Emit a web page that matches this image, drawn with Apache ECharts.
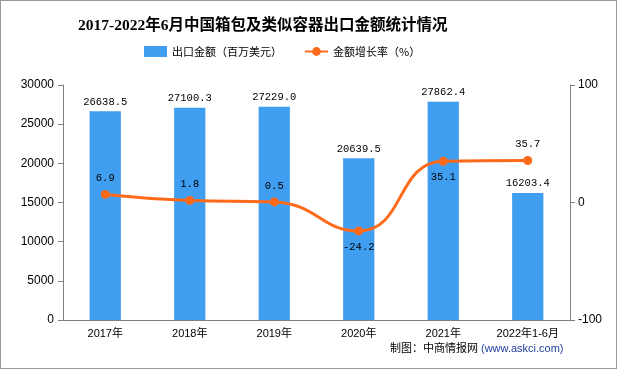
<!DOCTYPE html>
<html><head><meta charset="utf-8">
<script src="https://cdn.jsdelivr.net/npm/echarts@6/dist/echarts.min.js"></script>
<style>html,body{margin:0;padding:0;background:#fff}#c{width:617px;height:369px;box-sizing:border-box;border:1px solid #999}</style>
</head><body><div id="c"></div>
<script>
const categories = ['2017年','2018年','2019年','2020年','2021年','2022年1-6月'];
const exportValue = [26638.5, 27100.3, 27229.0, 20639.5, 27862.4, 16203.4];
const growthRate = [6.9, 1.8, 0.5, -24.2, 35.1, 35.7];
const growthLabelPos = ['top','top','top','bottom','bottom','top'];
const leftTicks = [0, 5000, 10000, 15000, 20000, 25000, 30000];

const chart = echarts.init(document.getElementById('c'));
const monoFont = "'Liberation Mono', monospace";
chart.setOption({
  animation: false,
  title: {
    text: '2017-2022年6月中国箱包及类似容器出口金额统计情况',
    left: 72, top: 12,
    textStyle: {fontFamily: "'Liberation Serif','Noto Sans CJK SC',serif", fontWeight: 'bold', fontSize: 15.5, color: '#000'}
  },
  legend: {
    top: 40, left: 138, itemGap: 22, itemWidth: 23, itemHeight: 11,
    textStyle: {fontFamily: "'Noto Sans CJK SC'", fontSize: 11, color: '#000'},
    data: [{name: '出口金额（百万美元）', icon: 'rect'}, {name: '金额增长率（%）'}]
  },
  grid: {left: 62, right: 46, top: 84, bottom: 48},
  xAxis: {
    type: 'category', data: categories,
    axisLine: {lineStyle: {color: '#808080'}},
    axisTick: {lineStyle: {color: '#808080'}, length: 5},
    axisLabel: {color: '#000', fontSize: 11, interval: 0, fontFamily: "'Liberation Sans','Noto Sans CJK SC'", margin: 8}
  },
  yAxis: [{
    type: 'value', min: leftTicks[0], max: leftTicks[leftTicks.length-1], interval: 5000,
    axisLine: {show: true, lineStyle: {color: '#808080'}},
    axisTick: {show: true, length: 5, lineStyle: {color: '#808080'}},
    splitLine: {show: false},
    axisLabel: {color: '#000', fontSize: 12, fontFamily: "'Liberation Sans',sans-serif", margin: 9, formatter: v => String(v)}
  }, {
    type: 'value', min: -100, max: 100, interval: 100,
    axisLine: {show: true, lineStyle: {color: '#808080'}},
    axisTick: {show: true, length: 5, lineStyle: {color: '#808080'}},
    splitLine: {show: false},
    axisLabel: {color: '#000', fontSize: 12, fontFamily: "'Liberation Sans',sans-serif", margin: 8, formatter: v => String(v)}
  }],
  series: [{
    name: '出口金额（百万美元）', type: 'bar', data: exportValue, barWidth: '37%',
    itemStyle: {color: '#409EF0'},
    label: {show: true, position: 'top', distance: 4, color: '#000', fontSize: 10.5, fontFamily: monoFont,
      formatter: p => p.value.toFixed(1)}
  }, {
    name: '金额增长率（%）', type: 'line', yAxisIndex: 1, smooth: true,
    data: growthRate.map((v, i) => ({value: v, label: {position: growthLabelPos[i], distance: 6}})),
    symbol: 'circle', symbolSize: 9,
    lineStyle: {color: '#FF6A1A', width: 3},
    itemStyle: {color: '#FF6A1A'},
    label: {show: true, color: '#000', fontSize: 10.5, fontFamily: monoFont, formatter: p => p.value.toFixed(1)}
  }],
  graphic: [{
    type: 'text', left: 389, top: 341,
    style: {text: '制图：中商情报网', fill: '#000', font: "11px 'Noto Sans CJK SC'"}
  }, {
    type: 'text', left: 480, top: 342,
    style: {text: '(www.askci.com)', fill: '#1f3f9f', font: "11px 'Liberation Sans'"}
  }]
});
</script></body></html>
